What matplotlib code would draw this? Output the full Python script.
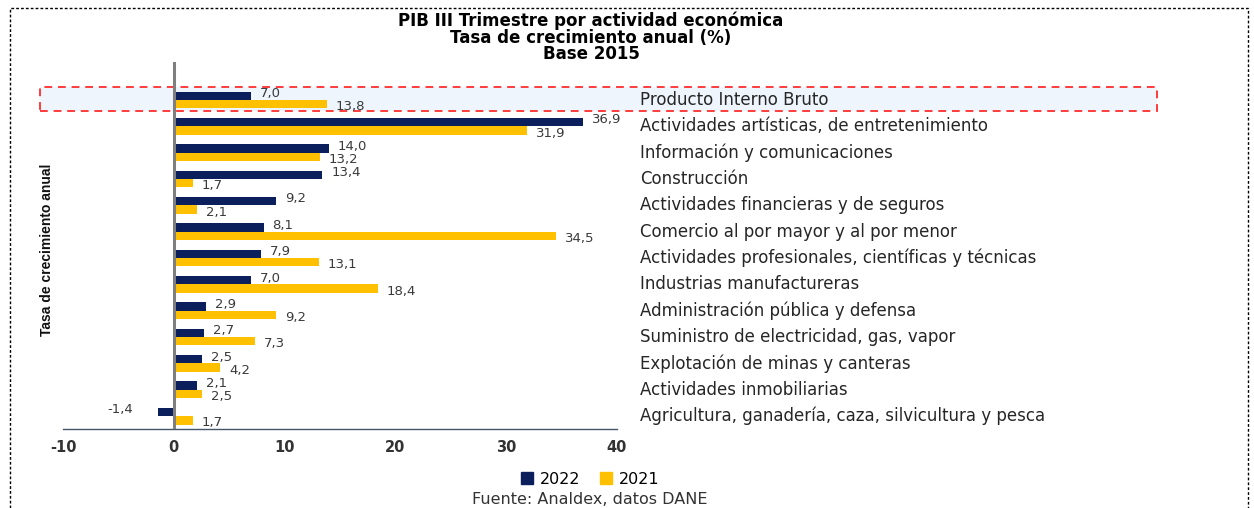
import matplotlib
matplotlib.use("Agg")
from matplotlib import pyplot as plt
from matplotlib import font_manager
from matplotlib.patches import Rectangle, Patch
import numpy as np

categorias = [
    "Producto Interno Bruto",
    "Actividades artísticas, de entretenimiento",
    "Información y comunicaciones",
    "Construcción",
    "Actividades financieras y de seguros",
    "Comercio al por mayor y al por menor",
    "Actividades profesionales, científicas y técnicas",
    "Industrias manufactureras",
    "Administración pública y defensa",
    "Suministro de electricidad, gas, vapor",
    "Explotación de minas y canteras",
    "Actividades inmobiliarias",
    "Agricultura, ganadería, caza, silvicultura y pesca",
]
valores_2022 = [7.0, 36.9, 14.0, 13.4, 9.2, 8.1, 7.9, 7.0, 2.9, 2.7, 2.5, 2.1, -1.4]
valores_2021 = [13.8, 31.9, 13.2, 1.7, 2.1, 34.5, 13.1, 18.4, 9.2, 7.3, 4.2, 2.5, 1.7]
ticks_x = [-10, 0, 10, 20, 30, 40]

azul = "#0b1f5c"
amarillo = "#ffc000"
texto = "#3a3a3a"

nombres = {f.name for f in font_manager.fontManager.ttflist}
fuente_narrow = "Liberation Sans Narrow" if "Liberation Sans Narrow" in nombres else "Liberation Sans"

W, H = 1254, 508
fig = plt.figure(figsize=(W / 100, H / 100), dpi=100)
ax = fig.add_axes([63 / W, 1 - 429 / H, 554 / W, 367 / H])
ax.patch.set_visible(False)
ax.set_zorder(2)

# caja punteada roja del PIB
fig.patches.append(Rectangle((40 / W, 1 - 111 / H), 1117 / W, 24 / H, transform=fig.transFigure,
                             facecolor="#eef5fc", edgecolor="#ff3b3b", linestyle=(0, (4, 3)),
                             linewidth=1.4, zorder=0))
# borde exterior punteado
fig.patches.append(Rectangle((10 / W, -0.05), 1238 / W, 1 - 8 / H + 0.05, transform=fig.transFigure,
                             facecolor="none", edgecolor="black", linestyle=(0, (2, 1.5)),
                             linewidth=1.0, zorder=0))

y = np.arange(len(categorias))
h = 0.32
ax.barh(y - h / 2, valores_2022, height=h, color=azul, zorder=3)
ax.barh(y + h / 2, valores_2021, height=h, color=amarillo, zorder=3)

ax.set_xlim(-10, 40)
ax.set_ylim(12.49, -1.44)
ax.set_xticks(ticks_x)
ax.set_xticklabels([str(t) for t in ticks_x], fontsize=10.5, fontweight="bold", color="#333333")
ax.set_yticks([])
ax.tick_params(axis="x", length=0, pad=8)
for s in ["top", "right", "left"]:
    ax.spines[s].set_visible(False)
ax.spines["bottom"].set_color("#44546a")
ax.spines["bottom"].set_linewidth(1.0)
ax.axvline(0, color="#7f7f7f", linewidth=2.2, zorder=4)

unidad = 50 / 554  # unidades de datos por pixel
for i, (a, b) in enumerate(zip(valores_2022, valores_2021)):
    if a >= 0:
        ax.text(a + 9 * unidad, i - h / 2 - 0.08, f"{a:.1f}".replace(".", ","), fontsize=9.5,
                color=texto, va="center", ha="left")
    else:
        ax.text(a - 25 * unidad, i - h / 2 - 0.08, f"{a:.1f}".replace(".", ","), fontsize=9.5,
                color=texto, va="center", ha="right")
    ax.text(b + 9 * unidad, i + h / 2 + 0.1, f"{b:.1f}".replace(".", ","), fontsize=9.5,
            color=texto, va="center", ha="left")
    ax.text(42.1, i, categorias[i], fontsize=12, color="#262626", va="center", ha="left",
            clip_on=False)

fig.text(47 / W, 1 - 250 / H, "Tasa de crecimiento anual", rotation=90, ha="center", va="center",
         fontsize=10, fontweight="bold", family=fuente_narrow, color="#111111")

fig.text(591 / W, 1 - 21 / H, "PIB III Trimestre por actividad económica", ha="center", va="center",
         fontsize=12, fontweight="bold")
fig.text(591 / W, 1 - 38 / H, "Tasa de crecimiento anual (%)", ha="center", va="center",
         fontsize=12, fontweight="bold")
fig.text(591 / W, 1 - 54 / H, "Base 2015", ha="center", va="center",
         fontsize=12, fontweight="bold")

fig.legend(handles=[Patch(color=azul, label="2022"), Patch(color=amarillo, label="2021")],
           loc="center", bbox_to_anchor=(590 / W, 1 - 479 / H), ncol=2, frameon=False,
           fontsize=11.5, handlelength=0.8, handleheight=0.7, handletextpad=0.4, columnspacing=1.2)

fig.text(590 / W, 1 - 499 / H, "Fuente: Analdex, datos DANE", ha="center", va="center",
         fontsize=11.5, color="#333333")

plt.savefig("out.png", dpi=100)
